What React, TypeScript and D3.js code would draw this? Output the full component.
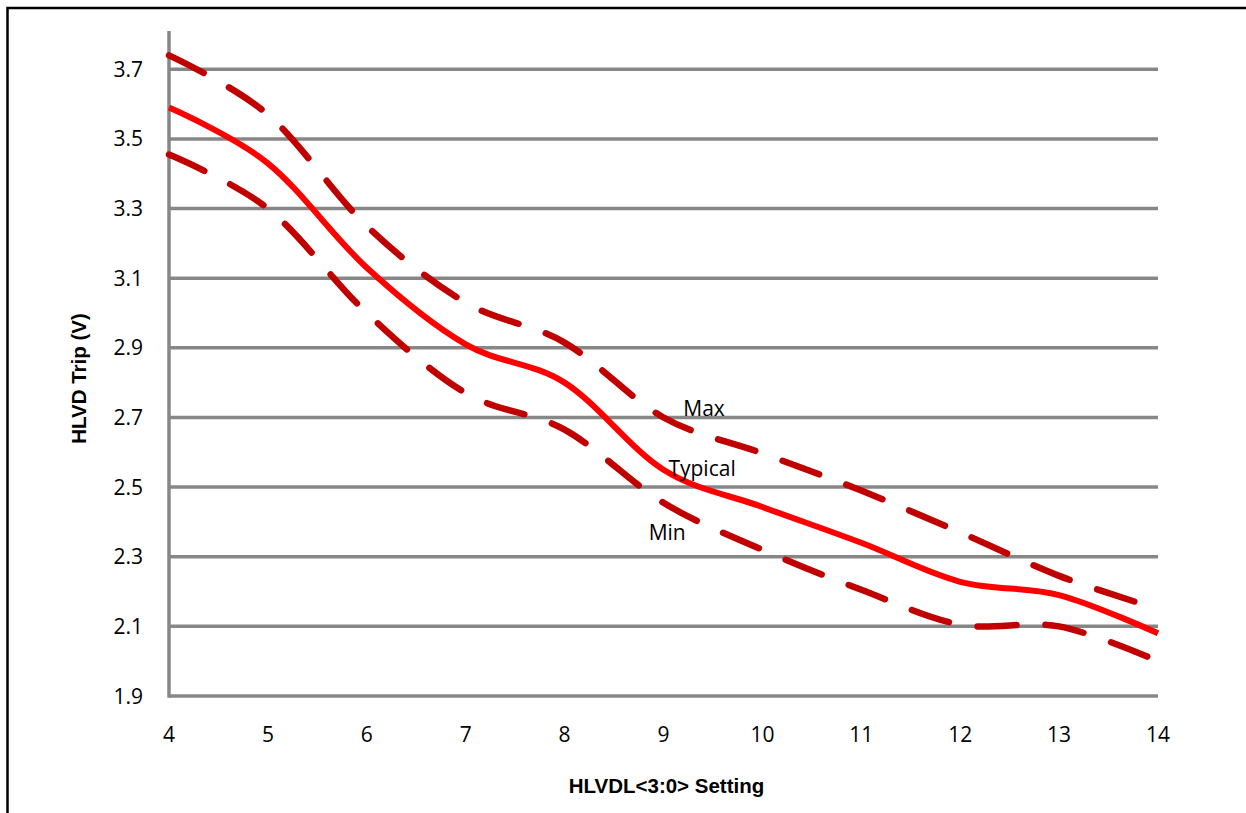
import React from "react";
import * as d3 from "d3";

const xTicks = [4, 5, 6, 7, 8, 9, 10, 11, 12, 13, 14];
const yTicks = [1.9, 2.1, 2.3, 2.5, 2.7, 2.9, 3.1, 3.3, 3.5, 3.7];

const settings = [4, 5, 6, 7, 8, 9, 10, 11, 12, 13, 14];
const maxTrip = [3.74, 3.57, 3.25, 3.03, 2.915, 2.7, 2.597, 2.49, 2.37, 2.245, 2.15];
const typTrip = [3.59, 3.43, 3.13, 2.91, 2.8, 2.55, 2.443, 2.34, 2.228, 2.19, 2.08];
const minTrip = [3.455, 3.3, 3.0, 2.77, 2.665, 2.455, 2.32, 2.205, 2.105, 2.1, 2.0];

const seriesLabels = [
  { name: "Max", x: 9.2, y: 2.703 },
  { name: "Typical", x: 9.05, y: 2.532 },
  { name: "Min", x: 8.85, y: 2.348 },
];

const W = 1246;
const H = 813;

export default function App() {
  const x = d3.scaleLinear().domain([4, 14]).range([169, 1158]);
  const y = d3.scaleLinear().domain([1.9, 3.81]).range([696, 31]);

  const line = d3
    .line<number>()
    .x((_, i) => x(settings[i]))
    .y((d) => y(d))
    .curve(d3.curveCatmullRom.alpha(0));

  const tickFont = "'Open Sans', Lato, sans-serif";
  const titleFont = "'Liberation Sans', Arial, sans-serif";

  return (
    <svg
      width={W}
      height={H}
      style={{ position: "absolute", left: 0, top: 0, background: "#fff" }}
    >
      <rect x={0} y={0} width={W} height={H} fill="#fff" />
      {/* outer frame */}
      <rect x={7.5} y={8} width={1241} height={830} fill="none" stroke="#000" strokeWidth={2.5} />

      {/* gridlines */}
      {yTicks.map((t) => (
        <line
          key={"g" + t}
          x1={x(4)}
          x2={x(14)}
          y1={y(t)}
          y2={y(t)}
          stroke="#878787"
          strokeWidth={3.5}
        />
      ))}
      {/* y axis line */}
      <line x1={x(4)} x2={x(4)} y1={y(3.81)} y2={y(1.9) + 1.75} stroke="#878787" strokeWidth={3.5} />

      {/* y tick labels */}
      {yTicks.map((t) => (
        <text
          key={"yl" + t}
          x={143}
          y={y(t)}
          dy="0.36em"
          textAnchor="end"
          fontFamily={tickFont}
          fontSize={21}
          fill="#000"
        >
          {t.toFixed(1)}
        </text>
      ))}
      {/* x tick labels */}
      {xTicks.map((t) => (
        <text
          key={"xl" + t}
          x={x(t)}
          y={742}
          textAnchor="middle"
          fontFamily={tickFont}
          fontSize={21}
          fill="#000"
        >
          {t}
        </text>
      ))}

      {/* series */}
      <path
        d={line(maxTrip) || ""}
        fill="none"
        stroke="#C00000"
        strokeWidth={6.5}
        strokeLinecap="round"
        strokeDasharray="39 29"
      />
      <path
        d={line(minTrip) || ""}
        fill="none"
        stroke="#C00000"
        strokeWidth={6.5}
        strokeLinecap="round"
        strokeDasharray="39 29"
      />
      <path d={line(typTrip) || ""} fill="none" stroke="#FF0000" strokeWidth={6} strokeLinejoin="round" />

      {/* series labels */}
      {seriesLabels.map((s) => (
        <text
          key={s.name}
          x={x(s.x)}
          y={y(s.y)}
          fontFamily={tickFont}
          fontSize={21}
          fill="#000"
        >
          {s.name}
        </text>
      ))}

      {/* axis titles */}
      <text
        x={666.5}
        y={793}
        textAnchor="middle"
        fontFamily={titleFont}
        fontWeight="bold"
        fontSize={20.5}
        fill="#000"
      >
        HLVDL&lt;3:0&gt; Setting
      </text>
      <text
        transform={`translate(86,378.5) rotate(-90)`}
        textAnchor="middle"
        fontFamily={titleFont}
        fontWeight="bold"
        fontSize={20.5}
        fill="#000"
      >
        HLVD Trip (V)
      </text>
    </svg>
  );
}
